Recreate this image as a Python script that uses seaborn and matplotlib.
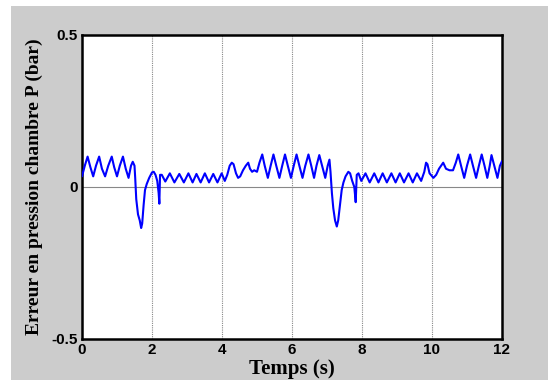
import matplotlib
matplotlib.use("Agg")
import matplotlib.pyplot as plt
import seaborn as sns
import pandas as pd
from matplotlib.patches import Rectangle

time_s = [
    0.00, 0.08, 0.16, 0.24, 0.32, 0.40, 0.49, 0.57, 0.66, 0.75, 0.85, 0.92, 1.00, 1.08, 1.17, 1.25, 1.33, 1.40, 1.45, 1.50,
    1.52, 1.55, 1.60, 1.65, 1.69, 1.72, 1.76, 1.80, 1.85, 1.92, 2.00, 2.05, 2.10, 2.15, 2.19, 2.21, 2.23, 2.28,
    2.38, 2.51, 2.64, 2.78, 2.91, 3.04, 3.16, 3.27, 3.39, 3.51, 3.63, 3.75, 3.87, 3.99, 4.08,
    4.15, 4.22, 4.28, 4.33, 4.40, 4.46, 4.52, 4.60, 4.68, 4.75, 4.80, 4.86, 4.92, 5.00, 5.07,
    5.15, 5.22, 5.31, 5.39, 5.47, 5.55, 5.64, 5.72, 5.80, 5.88, 5.97, 6.05, 6.13, 6.21, 6.30, 6.38, 6.47, 6.55, 6.63, 6.70, 6.78, 6.86, 6.95, 7.02, 7.07,
    7.10, 7.14, 7.18, 7.23, 7.28, 7.32, 7.37, 7.42, 7.47, 7.53, 7.61, 7.66, 7.72, 7.78, 7.82, 7.85, 7.90,
    7.98, 8.10, 8.22, 8.35, 8.47, 8.59, 8.71, 8.84, 8.96, 9.08, 9.20, 9.33, 9.45, 9.57, 9.69, 9.78,
    9.83, 9.87, 9.93, 10.04, 10.12, 10.20, 10.32, 10.40, 10.50, 10.60, 10.68,
    10.75, 10.83, 10.92, 11.00, 11.09, 11.17, 11.26, 11.34, 11.42, 11.50, 11.58, 11.65, 11.70, 11.78, 11.87, 11.94, 12.00,
]
pressure_error_bar = [
    0.035, 0.070, 0.100, 0.065, 0.035, 0.070, 0.100, 0.060, 0.035, 0.070, 0.100, 0.065, 0.035, 0.070, 0.100, 0.060, 0.030, 0.070, 0.083, 0.070,
    0.030, -0.040, -0.090, -0.110, -0.135, -0.120, -0.060, -0.010, 0.010, 0.030, 0.048, 0.050, 0.040, 0.020, -0.020, -0.055, 0.040, 0.040,
    0.018, 0.045, 0.015, 0.043, 0.015, 0.045, 0.015, 0.043, 0.015, 0.045, 0.015, 0.043, 0.015, 0.045, 0.020,
    0.040, 0.070, 0.080, 0.075, 0.045, 0.030, 0.035, 0.055, 0.070, 0.080, 0.060, 0.050, 0.055, 0.050, 0.080,
    0.107, 0.070, 0.030, 0.070, 0.107, 0.070, 0.030, 0.070, 0.107, 0.070, 0.030, 0.070, 0.107, 0.070, 0.030, 0.070, 0.107, 0.070, 0.030, 0.070, 0.105, 0.070, 0.030, 0.070, 0.090,
    0.050, -0.020, -0.070, -0.110, -0.130, -0.110, -0.060, -0.010, 0.015, 0.035, 0.050, 0.045, 0.020, 0.000, -0.050, 0.040, 0.045,
    0.020, 0.045, 0.015, 0.045, 0.015, 0.045, 0.015, 0.045, 0.015, 0.045, 0.015, 0.045, 0.015, 0.045, 0.020, 0.050,
    0.080, 0.075, 0.045, 0.030, 0.040, 0.060, 0.080, 0.060, 0.055, 0.055, 0.080,
    0.107, 0.070, 0.030, 0.070, 0.107, 0.070, 0.030, 0.070, 0.107, 0.070, 0.030, 0.070, 0.105, 0.070, 0.030, 0.070, 0.085,
]
x_ticks = [0, 2, 4, 6, 8, 10, 12]
y_ticks = [-0.5, 0, 0.5]
y_tick_labels = ["-0.5", "0", "0.5"]

df = pd.DataFrame({"t": time_s, "e": pressure_error_bar})

sns.set_style("white")
fig = plt.figure(figsize=(5.48, 3.80), dpi=100)
fig.patch.set_facecolor("white")
fig.patches.append(Rectangle((11 / 548, 0), 1, 1 - 6 / 380, transform=fig.transFigure,
                             facecolor="#cccccc", edgecolor="none", zorder=-10))
ax = fig.add_axes([82 / 548, 41 / 380, 420 / 548, 304 / 380])
ax.set_facecolor("white")

sns.lineplot(data=df, x="t", y="e", ax=ax, color="#0000ff", linewidth=1.5, zorder=3)

ax.set_xlim(0, 12)
ax.set_ylim(-0.5, 0.5)
ax.set_xticks(x_ticks)
ax.set_yticks(y_ticks)
ax.set_xticklabels([str(v) for v in x_ticks], fontfamily="Liberation Sans", fontweight="bold",
                   fontsize=11, color="black")
ax.set_yticklabels(y_tick_labels, fontfamily="Liberation Sans", fontweight="bold", fontsize=11, color="black")
ax.tick_params(direction="in", length=3, width=1, pad=3, colors="black")
for x in x_ticks[1:-1]:
    ax.axvline(x, color="#888888", linestyle=(0, (1, 1)), linewidth=0.8, zorder=1)
ax.axhline(0, color="#888888", linewidth=0.8, zorder=1)

for s in ax.spines.values():
    s.set_visible(True)
    s.set_color("black")
    s.set_linewidth(1.8)

ax.set_xlabel("Temps (s)", fontfamily="Liberation Serif", fontweight="bold", fontsize=15,
              labelpad=1, color="black")
ax.set_ylabel("Erreur en pression chambre P (bar)", fontfamily="Liberation Serif", fontweight="bold",
              fontsize=14, labelpad=6, color="black")

fig.savefig("out.png", dpi=100, facecolor=fig.get_facecolor())
